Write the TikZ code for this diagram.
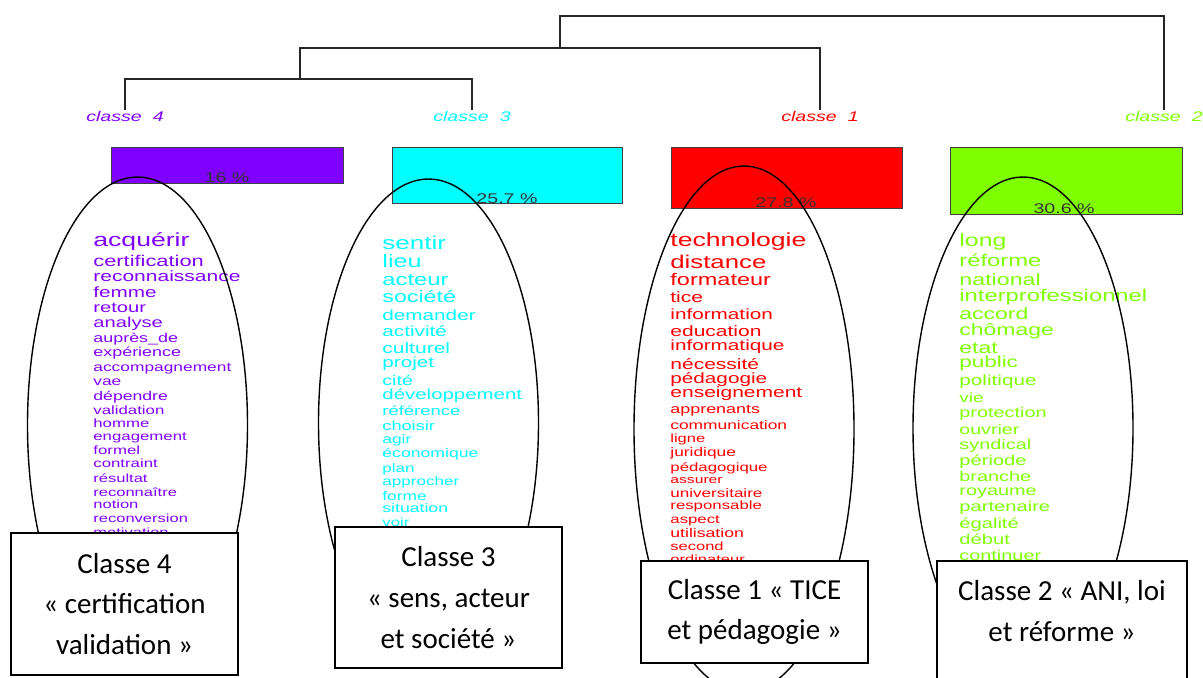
\documentclass[tikz,border=0pt]{standalone}
\usepackage{fontspec}
\setmainfont{Carlito}
\newfontfamily\motfont[FakeStretch=1.4]{Liberation Sans}
\usepackage{tikz}

\definecolor{violet4}{HTML}{8000FF}
\definecolor{cyan3}{HTML}{00FFFF}
\definecolor{rouge1}{HTML}{FF0000}
\definecolor{vert2}{HTML}{80FF00}

\tikzset{
  arbre/.style={black!85, line width=0.65pt},
  classe/.style={font=\motfont\itshape\fontsize{7}{8}\selectfont},
  barre/.style={draw=black!75, line width=0.5pt},
  pourcent/.style={font=\motfont\fontsize{7}{8}\selectfont, text=black!80},
  mot/.style={anchor=mid west},
  bulle/.style={black, line width=0.7pt},
  boite/.style={draw, fill=white, line width=0.75pt, align=center,
    font=\fontsize{14.5}{20.35}\selectfont, minimum width=113.5pt}
}

\begin{document}
\begin{tikzpicture}[x=0.5pt,y=0.5pt]
    \tikzstyle{every node}+=[inner sep=0pt]
    \useasboundingbox (0,0) rectangle (1203,-677);
    \fill [white] (0,0) rectangle (1203,-677);
    % dendrogramme
    \node [classe, text=violet4] (l4) at (125,-116) {classe~~4};
    \node [classe, text=cyan3] (l3) at (472,-116) {classe~~3};
    \node [classe, text=rouge1] (l1) at (820,-116) {classe~~1};
    \node [classe, text=vert2] (l2) at (1164,-116) {classe~~2};
    \coordinate (j43) at (300,-79);
    \coordinate (j431) at (560,-48);
    \coordinate (racine) at (862,-16);
    \draw [arbre] (l4.north) |- (j43) -| (l3.north);
    \draw [arbre] (j43) |- (j431) -| (l1.north);
    \draw [arbre] (j431) |- (racine) -| (l2.north);
    % barres
    \draw [barre, fill=violet4] (111,-147) rectangle (343,-183);
    \draw [barre, fill=cyan3] (392,-147) rectangle (622,-203);
    \draw [barre, fill=rouge1] (671,-147) rectangle (902,-208);
    \draw [barre, fill=vert2] (950,-147) rectangle (1182,-214);
    \node [pourcent] (p4) at (227,-178) {16 \%};
    \node [pourcent] (p3) at (507,-199) {25.7 \%};
    \node [pourcent] (p1) at (786,-203) {27.8 \%};
    \node [pourcent] (p2) at (1064,-209) {30.6 \%};
    % mots
    \foreach \m/\t/\y [count=\i] in {acquérir/9.5/242, certification/7.8/262,
      reconnaissance/7.5/277, femme/7.4/293, retour/7.2/308, analyse/7.2/323,
      auprès\_de/6.4/338, expérience/6.4/352, accompagnement/6.2/367, vae/6.2/381,
      dépendre/6.3/396, validation/6/410, homme/6/423, engagement/6/436,
      formel/6/450, contraint/6/463, résultat/5.9/478, reconnaître/5.9/492,
      notion/5.9/504, reconversion/5.9/518, motivation/5.9/532}
      \node [mot, text=violet4, font=\motfont\fontsize{\t}{\t}\selectfont] (c4-\i) at (93,-\y) {\m};
    \foreach \m/\t/\y [count=\i] in {sentir/9.3/245, lieu/9/263, acteur/8.5/281,
      société/8.3/298, demander/7.4/316, activité/7.4/332, culturel/7.5/349,
      projet/7.4/363, cité/7/381, développement/7.3/395, référence/6.6/411,
      choisir/6.5/426, agir/6.2/439, économique/6.3/453, plan/6.1/468,
      approcher/6.1/481, forme/6.2/496, situation/6.3/508, voir/6/522}
      \node [mot, text=cyan3, font=\motfont\fontsize{\t}{\t}\selectfont] (c3-\i) at (382,-\y) {\m};
    \foreach \m/\t/\y [count=\i] in {technologie/9.5/242, distance/9.2/263.5,
      formateur/8.4/280.5, tice/7.5/297.5, information/7.4/315, education/7.5/331.5,
      informatique/7.4/346, nécessité/7.5/364.5, pédagogie/7.4/379,
      enseignement/7.5/393, apprenants/6.4/409, communication/6.2/424.5,
      ligne/5.9/438, juridique/6.2/452, pédagogique/6/466.5, assurer/5.6/478.5,
      universitaire/6.1/493, responsable/6/504.5, aspect/6/518.5,
      utilisation/6.3/532.5, second/5.9/546, ordinateur/5.9/559}
      \node [mot, text=rouge1, font=\motfont\fontsize{\t}{\t}\selectfont] (c1-\i) at (670,-\y) {\m};
    \foreach \m/\t/\y [count=\i] in {long/8.9/242, réforme/8.5/262, national/8.3/280.5,
      interprofessionnel/8.5/297, accord/8.2/315, chômage/8.2/331, etat/8.2/349,
      public/8/363, politique/7.4/381, vie/6.8/398, protection/7.1/413,
      ouvrier/7/429.5, syndical/7.1/444.5, période/7.2/461, branche/7.1/476.5,
      royaume/7.1/490.5, partenaire/7.2/507, égalité/7.2/524, début/7.2/540,
      continuer/7.1/555.5}
      \node [mot, text=vert2, font=\motfont\fontsize{\t}{\t}\selectfont] (c2-\i) at (959,-\y) {\m};
    % ellipses
    \draw [bulle] (137.5,-425) ellipse (110 and 248);
    \draw [bulle] (428.5,-423) ellipse (110 and 244);
    \draw [bulle] (744,-429) ellipse (110 and 263);
    \draw [bulle] (1023,-428) ellipse (110 and 251);
    % cadres
    \node [boite, minimum height=71pt] (b4) at (124.5,-604)
      {Classe 4\\« certification\\validation »};
    \node [boite, minimum height=70.5pt] (b3) at (448.5,-597.5)
      {Classe 3\\« sens, acteur\\et société »};
    \node [boite, minimum height=51pt] (b1) at (754.5,-612)
      {Classe 1 « TICE\\et pédagogie »};
    \draw [fill=white, line width=0.75pt] (937,-561) rectangle (1187,-700);
    \node [align=center, font=\fontsize{14.5}{20.35}\selectfont] (b2) at (1062,-611)
      {Classe 2 « ANI, loi\\et réforme »};
\end{tikzpicture}
\end{document}
